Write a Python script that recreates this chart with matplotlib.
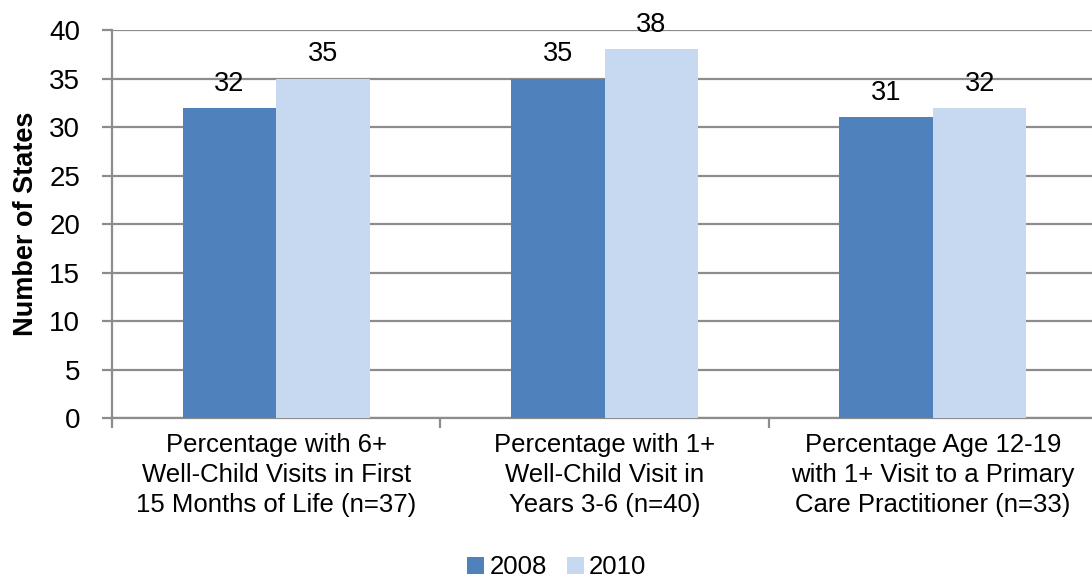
import numpy as np
from matplotlib import pyplot as plt

plt.rcParams['font.family'] = ['Liberation Sans', 'DejaVu Sans']

categories = ['Percentage with 6+\nWell-Child Visits in First\n15 Months of Life (n=37)',
              'Percentage with 1+\nWell-Child Visit in\nYears 3-6 (n=40)',
              'Percentage Age 12-19\nwith 1+ Visit to a Primary\nCare Practitioner (n=33)']
years = ['2008', '2010']
states_2008 = [32, 35, 31]
states_2010 = [35, 38, 32]
cols = ['#4F81BD', '#C6D9F0']
grey = '#8C8C8C'

fig = plt.figure(figsize=(10.92, 5.83), dpi=100)
ax = fig.add_axes([0.1026, 0.283, 0.902, 0.6655])

x = np.arange(len(categories))
w = 0.285
b1 = ax.bar(x - w / 2, states_2008, w, color=cols[0], label=years[0], zorder=3)
b2 = ax.bar(x + w / 2, states_2010, w, color=cols[1], label=years[1], zorder=3)

for bars in (b1, b2):
    for rect in bars:
        h = rect.get_height()
        ax.annotate(str(h), (rect.get_x() + rect.get_width() / 2, h),
                    xytext=(0, 8), textcoords='offset points',
                    ha='center', va='bottom', fontsize=19.5, zorder=4)

ax.set_ylim(0, 40)
ax.set_yticks(range(0, 41, 5))
ax.set_xlim(-0.5, 2.5)
ax.yaxis.grid(True, color=grey, linewidth=1.6, zorder=0)
ax.set_axisbelow(True)

# category labels sit between boundary ticks
ax.set_xticks([-0.5, 0.5, 1.5, 2.5])
ax.set_xticklabels([])
ax.set_xticks(x, minor=True)
ax.set_xticklabels(categories, minor=True, fontsize=18.5, linespacing=1.3)
ax.tick_params(axis='x', which='minor', length=0, pad=11)
ax.tick_params(axis='x', which='major', length=7, width=1.6, color=grey)
ax.tick_params(axis='y', length=7, width=1.6, color=grey, labelsize=20, pad=16)

for s in ['top', 'right']:
    ax.spines[s].set_visible(False)
for s in ['left', 'bottom']:
    ax.spines[s].set_color(grey)
    ax.spines[s].set_linewidth(1.6)

ax.set_ylabel('Number of States', fontsize=19.5, fontweight='bold', labelpad=7)

fig.legend(loc='center', bbox_to_anchor=(0.51, 0.027), ncol=2, frameon=False,
           fontsize=18.5, handlelength=0.65, handleheight=0.65, handletextpad=0.2,
           columnspacing=0.8)

fig.savefig('out.png', dpi=100)
